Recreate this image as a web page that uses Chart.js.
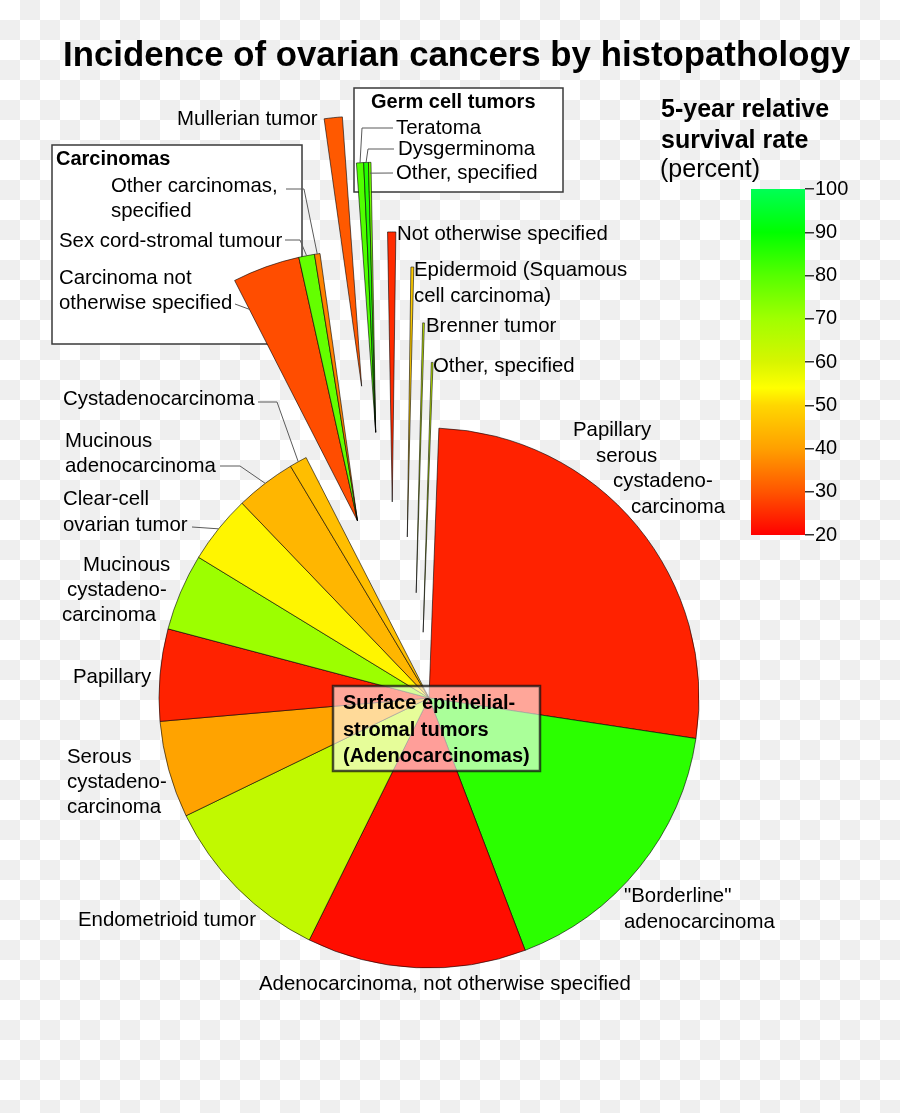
<!DOCTYPE html>
<html>
<head>
<meta charset="utf-8">
<title>Incidence of ovarian cancers by histopathology</title>
<script src="https://cdn.jsdelivr.net/npm/chart.js@4.4.1/dist/chart.umd.min.js"></script>
<style>
  html, body { margin: 0; padding: 0; }
  body {
    width: 900px; height: 1113px; position: relative; overflow: hidden;
    background: repeating-conic-gradient(#efefef 0 25%, #ffffff 0 50%) 0 0 / 40px 40px;
  }
  #pie { position: absolute; left: 0; top: 0; }
  #scale { position: absolute; left: 751px; top: 175px; }
</style>
</head>
<body>
<canvas id="pie" width="900" height="1113"></canvas>
<canvas id="scale" width="110" height="374"></canvas>
<script>
const FONT = "'Liberation Sans', Arial, Helvetica, sans-serif";
Chart.defaults.font.family = FONT;

// slices, clockwise from the top
const categories = [
  "Papillary serous cystadenocarcinoma",
  "\"Borderline\" adenocarcinoma",
  "Adenocarcinoma, not otherwise specified",
  "Endometrioid tumor",
  "Serous cystadenocarcinoma",
  "Papillary",
  "Mucinous cystadenocarcinoma",
  "Clear-cell ovarian tumor",
  "Mucinous adenocarcinoma",
  "Cystadenocarcinoma",
  "Carcinoma not otherwise specified",
  "Sex cord-stromal tumour",
  "Other carcinomas, specified",
  "Mullerian tumor",
  "Teratoma",
  "Dysgerminoma",
  "Other, specified",
  "Not otherwise specified",
  "Epidermoid (Squamous cell carcinoma)",
  "Brenner tumor",
  "Other, specified"
];
// share of cases (percent)
const incidence = [26.8, 16.8, 13.1, 10.5, 5.8, 5.5, 4.6, 4.1, 3.6, 1.05,
  4.03, 0.94, 0.33, 1.08, 0.43, 0.28, 0.15, 0.49, 0.17, 0.1, 0.1];
// 5-year relative survival (percent)
const survival = [24, 85, 21.5, 64, 40.5, 24, 70.5, 53, 44, 45.5,
  29, 78, 36, 30.5, 80.5, 86, 76, 25, 48, 62, 63];
const sliceGroup = ["surface", "surface", "surface", "surface", "surface", "surface", "surface", "surface", "surface", "surface",
  "carcinomas", "carcinomas", "carcinomas", "mullerian", "germ", "germ", "germ", "nos", "epidermoid", "brenner", "other"];

const scaleTicks = [20, 30, 40, 50, 60, 70, 80, 90, 100];
const colorStops = [
  [20, [255, 0, 0]], [30, [255, 85, 0]], [40, [255, 160, 0]], [50, [255, 215, 0]], [54, [255, 255, 0]],
  [60, [215, 245, 0]], [70, [160, 255, 0]], [80, [85, 255, 0]], [90, [0, 255, 0]], [100, [0, 255, 85]]
];

// how far each group is pulled out of the pie: [distance px, direction tilt deg]
const explode = {
  surface: [0, 0],
  carcinomas: [191, -4.45],
  mullerian: [319, -6.15],
  germ: [271, -8.8],
  nos: [199.5, -10.5],
  epidermoid: [162.5, -8.75],
  brenner: [106, -8.5],
  other: [66, -7]
};

// label text placement, leader: [x1, y1, elbowX, angle fraction, radius fraction]
const labelLayout = [
  { i: 0, lines: ["Papillary", "serous", "cystadeno-", "carcinoma"], x: [573, 596, 613, 631], y: 436, lh: 25.7 },
  { i: 1, lines: ["\"Borderline\"", "adenocarcinoma"], x: [624, 624], y: 902, lh: 26 },
  { i: 2, lines: ["Adenocarcinoma, not otherwise specified"], x: [259], y: 990 },
  { i: 3, lines: ["Endometrioid tumor"], x: [78], y: 926 },
  { i: 4, lines: ["Serous", "cystadeno-", "carcinoma"], x: [67, 67, 67], y: 763, lh: 25 },
  { i: 5, lines: ["Papillary"], x: [73], y: 683 },
  { i: 6, lines: ["Mucinous", "cystadeno-", "carcinoma"], x: [83, 67, 62], y: 571, lh: 25 },
  { i: 7, lines: ["Clear-cell", "ovarian tumor"], x: [63, 63], y: 505, lh: 26, lead: [192, 527, null, 0.5, 1] },
  { i: 8, lines: ["Mucinous", "adenocarcinoma"], x: [65, 65], y: 447, lh: 25, lead: [220, 466, 240, 0.5, 1] },
  { i: 9, lines: ["Cystadenocarcinoma"], x: [63], y: 405, lead: [258, 402, 277, 0.5, 1] },
  { i: 10, lines: ["Carcinoma not", "otherwise specified"], x: [59, 59], y: 284, lh: 25, lead: [235, 304, null, 0, 0.88] },
  { i: 11, lines: ["Sex cord-stromal tumour"], x: [59], y: 247, lead: [285, 240, 300, 0.5, 1] },
  { i: 12, lines: ["Other carcinomas,", "specified"], x: [111, 111], y: 192, lh: 25, lead: [286, 189, 304, 0.5, 1] },
  { i: 13, lines: ["Mullerian tumor"], x: [177], y: 125 },
  { i: 14, lines: ["Teratoma"], x: [396], y: 134, lead: [393, 128, 362, 0.5, 1] },
  { i: 15, lines: ["Dysgerminoma"], x: [398], y: 155, lead: [394, 149, 368, 0.5, 1] },
  { i: 16, lines: ["Other, specified"], x: [396], y: 179, lead: [393, 173, null, 0.5, 0.96] },
  { i: 17, lines: ["Not otherwise specified"], x: [397], y: 240 },
  { i: 18, lines: ["Epidermoid (Squamous", "cell carcinoma)"], x: [414, 414], y: 276, lh: 26 },
  { i: 19, lines: ["Brenner tumor"], x: [426], y: 332 },
  { i: 20, lines: ["Other, specified"], x: [433], y: 372 }
];

const groupBoxes = [
  { title: "Carcinomas", box: [52, 145, 250, 199], tx: 56, ty: 165 },
  { title: "Germ cell tumors", box: [354, 88, 209, 104], tx: 371, ty: 108 }
];

function survivalColor(v) {
  for (let k = 1; k < colorStops.length; k++) {
    const [v0, c0] = colorStops[k - 1];
    const [v1, c1] = colorStops[k];
    if (v <= v1 || k === colorStops.length - 1) {
      const t = Math.max(0, Math.min(1, (v - v0) / (v1 - v0)));
      const c = c0.map((x, j) => Math.round(x + (c1[j] - x) * t));
      return `rgb(${c[0]}, ${c[1]}, ${c[2]})`;
    }
  }
}

// pull groups of slices out along their middle direction
const explodePlugin = {
  id: "explode",
  afterDatasetUpdate(chart, args) {
    const arcs = args.meta.data;
    const cx = (chart.chartArea.left + chart.chartArea.right) / 2;
    const cy = (chart.chartArea.top + chart.chartArea.bottom) / 2;
    Object.keys(explode).forEach(g => {
      const idx = [];
      sliceGroup.forEach((s, i) => { if (s === g) idx.push(i); });
      if (!idx.length) return;
      const [dist, tilt] = explode[g];
      const mid = (arcs[idx[0]].startAngle + arcs[idx[idx.length - 1]].endAngle) / 2;
      const dir = mid + tilt * Math.PI / 180;
      idx.forEach(i => {
        arcs[i].x = cx + Math.cos(dir) * dist;
        arcs[i].y = cy + Math.sin(dir) * dist;
      });
    });
  }
};

const annotatePlugin = {
  id: "annotate",
  beforeDatasetsDraw(chart) {
    const ctx = chart.ctx;
    ctx.save();
    groupBoxes.forEach(b => {
      ctx.fillStyle = "#ffffff";
      ctx.fillRect(b.box[0], b.box[1], b.box[2], b.box[3]);
      ctx.strokeStyle = "#3a3a3a";
      ctx.lineWidth = 1.5;
      ctx.strokeRect(b.box[0], b.box[1], b.box[2], b.box[3]);
      ctx.fillStyle = "#000";
      ctx.font = "bold 20px " + FONT;
      ctx.fillText(b.title, b.tx, b.ty);
    });
    ctx.restore();
  },
  afterDraw(chart) {
    const ctx = chart.ctx;
    const arcs = chart.getDatasetMeta(0).data;
    ctx.save();

    // title
    ctx.fillStyle = "#000";
    ctx.textAlign = "center";
    ctx.font = "bold 34.8px " + FONT;
    ctx.fillText("Incidence of ovarian cancers by histopathology", 456.5, 66);

    // colour scale title
    ctx.textAlign = "left";
    ctx.font = "bold 25px " + FONT;
    ctx.fillText("5-year relative", 661, 117);
    ctx.fillText("survival rate", 661, 148);
    ctx.font = "25px " + FONT;
    ctx.fillText("(percent)", 660, 177);

    // slice labels and leader lines
    ctx.font = "20.4px " + FONT;
    labelLayout.forEach(l => {
      ctx.fillStyle = "#000";
      l.lines.forEach((t, k) => ctx.fillText(t, l.x[k], l.y + k * (l.lh || 25)));
      if (l.lead) {
        const [x1, y1, x2, af, rf] = l.lead;
        const a = arcs[l.i];
        const ang = a.startAngle + (a.endAngle - a.startAngle) * af;
        const ex = a.x + Math.cos(ang) * a.outerRadius * rf;
        const ey = a.y + Math.sin(ang) * a.outerRadius * rf;
        ctx.beginPath();
        ctx.moveTo(x1, y1);
        if (x2 !== null) ctx.lineTo(x2, y1);
        ctx.lineTo(ex, ey);
        ctx.strokeStyle = "#5a5a5a";
        ctx.lineWidth = 1;
        ctx.stroke();
      }
    });

    // group label in the middle of the pie
    ctx.fillStyle = "rgba(255, 255, 255, 0.6)";
    ctx.fillRect(333, 686, 207, 85);
    ctx.strokeStyle = "rgba(20, 20, 20, 0.75)";
    ctx.lineWidth = 2.5;
    ctx.strokeRect(333, 686, 207, 85);
    ctx.fillStyle = "#000";
    ctx.font = "bold 20px " + FONT;
    ctx.fillText("Surface epithelial-", 343, 709);
    ctx.fillText("stromal tumors", 343, 735.5);
    ctx.fillText("(Adenocarcinomas)", 343, 762);
    ctx.restore();
  }
};

new Chart(document.getElementById("pie"), {
  type: "pie",
  data: {
    labels: categories,
    datasets: [{
      data: incidence,
      backgroundColor: survival.map(survivalColor),
      borderColor: "rgba(0, 0, 0, 0.75)",
      borderWidth: 0.8,
      clip: false
    }]
  },
  options: {
    responsive: false,
    animation: false,
    events: [],
    rotation: 2.1,
    radius: 270,
    layout: { padding: { left: 0, right: 42, top: 283, bottom: 0 } },
    plugins: {
      legend: { display: false },
      tooltip: { enabled: false },
      title: { display: false }
    }
  },
  plugins: [explodePlugin, annotatePlugin]
});

// colour scale: one floating bar from 20 to 100 filled with the colour map
new Chart(document.getElementById("scale"), {
  type: "bar",
  data: {
    labels: [""],
    datasets: [{
      data: [[scaleTicks[0], scaleTicks[scaleTicks.length - 1]]],
      backgroundColor: c => {
        const area = c.chart.chartArea;
        if (!area || !Number.isFinite(area.top) || !Number.isFinite(area.bottom)) return "rgba(0,0,0,0)";
        const g = c.chart.ctx.createLinearGradient(0, area.bottom, 0, area.top);
        colorStops.forEach(([v, col]) => g.addColorStop((v - 20) / 80, `rgb(${col[0]}, ${col[1]}, ${col[2]})`));
        return g;
      },
      borderWidth: 0,
      barPercentage: 1,
      categoryPercentage: 1
    }]
  },
  options: {
    responsive: false,
    animation: false,
    events: [],
    layout: { padding: { top: 14, bottom: 14, left: 0, right: 0 } },
    plugins: { legend: { display: false }, tooltip: { enabled: false } },
    scales: {
      x: { display: false },
      y: {
        position: "right",
        min: 20,
        max: 100,
        afterBuildTicks: s => { s.ticks = scaleTicks.map(v => ({ value: v })); },
        afterFit: s => { s.width = 56; },
        ticks: { color: "#000", padding: 1, font: { size: 20 } },
        grid: { drawOnChartArea: false, tickLength: 9, color: "#333", lineWidth: 1.5 },
        border: { display: false }
      }
    }
  }
});
</script>
</body>
</html>
